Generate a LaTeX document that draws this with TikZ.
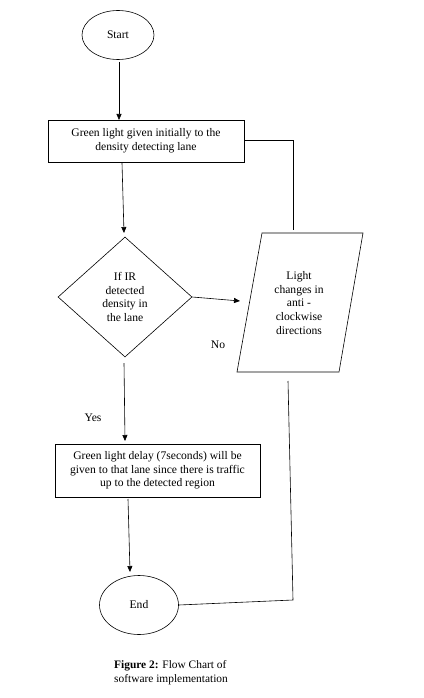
\documentclass[tikz,border=0pt]{standalone}
\usepackage{fontspec}
\setmainfont{Liberation Serif}
\usetikzlibrary{shapes.geometric,arrows.meta}
\begin{document}
\begin{tikzpicture}[x=1pt,y=-1pt,
  every node/.style={font=\fontsize{11.6}{13.6}\selectfont, align=center, inner sep=0pt},
  term/.style={draw, ellipse, line width=0.6pt},
  procbox/.style={draw, rectangle, line width=0.6pt},
  conn/.style={line width=0.6pt},
  arr/.style={conn, -{Triangle[width=5pt,length=6pt]}}]
\useasboundingbox (0,0) rectangle (423,698);
\fill[white] (0,0) rectangle (423,698);

\node[term, minimum width=72pt, minimum height=49pt] (start) at (118,35) {Start};
\node[procbox, minimum width=196pt, minimum height=42pt] (box1) at (146,141)
  {Green light given initially to the\\density detecting lane};
\node[draw, diamond, line width=0.6pt, minimum width=134pt, minimum height=120pt] (dec) at (125,297)
  {If IR\\detected\\density in\\the lane};
\draw[line width=0.6pt] (262,233) -- (363,233) -- (339,372) -- (237,372) -- cycle;
\node (light) at (299,303) {Light\\changes in\\anti -\\clockwise\\directions};
\coordinate (ptop) at (293,233);
\coordinate (pbot) at (288,381);
\coordinate (pin) at (240,301);
\node[procbox, minimum width=205pt, minimum height=53pt] (box2) at (157.5,470.5)
  {Green light delay (7seconds) will be\\given to that lane since there is traffic\\up to the detected region};
\node[term, minimum width=79pt, minimum height=59pt] (end) at (139,605) {End};

\node (no) at (218,345) {No};
\node (yes) at (93,418) {Yes};

\draw[arr] (119,62) -- (119,120);
\draw[arr] (122,163) -- (124,233);
\draw[arr] (dec.east) -- (pin);
\draw[arr] (124,363) -- (125,441);
\draw[arr] (128,499) -- (130,572);
\draw[conn] (box1.east |- 0,140) -- (293,140) -- (ptop |- 0,230);
\draw[conn] (pbot) -- (293,600) -- (end.east);

\node[anchor=north west, align=left, font=\fontsize{11.4}{13.8}\selectfont] (cap) at (114,660)
  {\textbf{Figure 2:} Flow Chart of\\software implementation};
\end{tikzpicture}
\end{document}
